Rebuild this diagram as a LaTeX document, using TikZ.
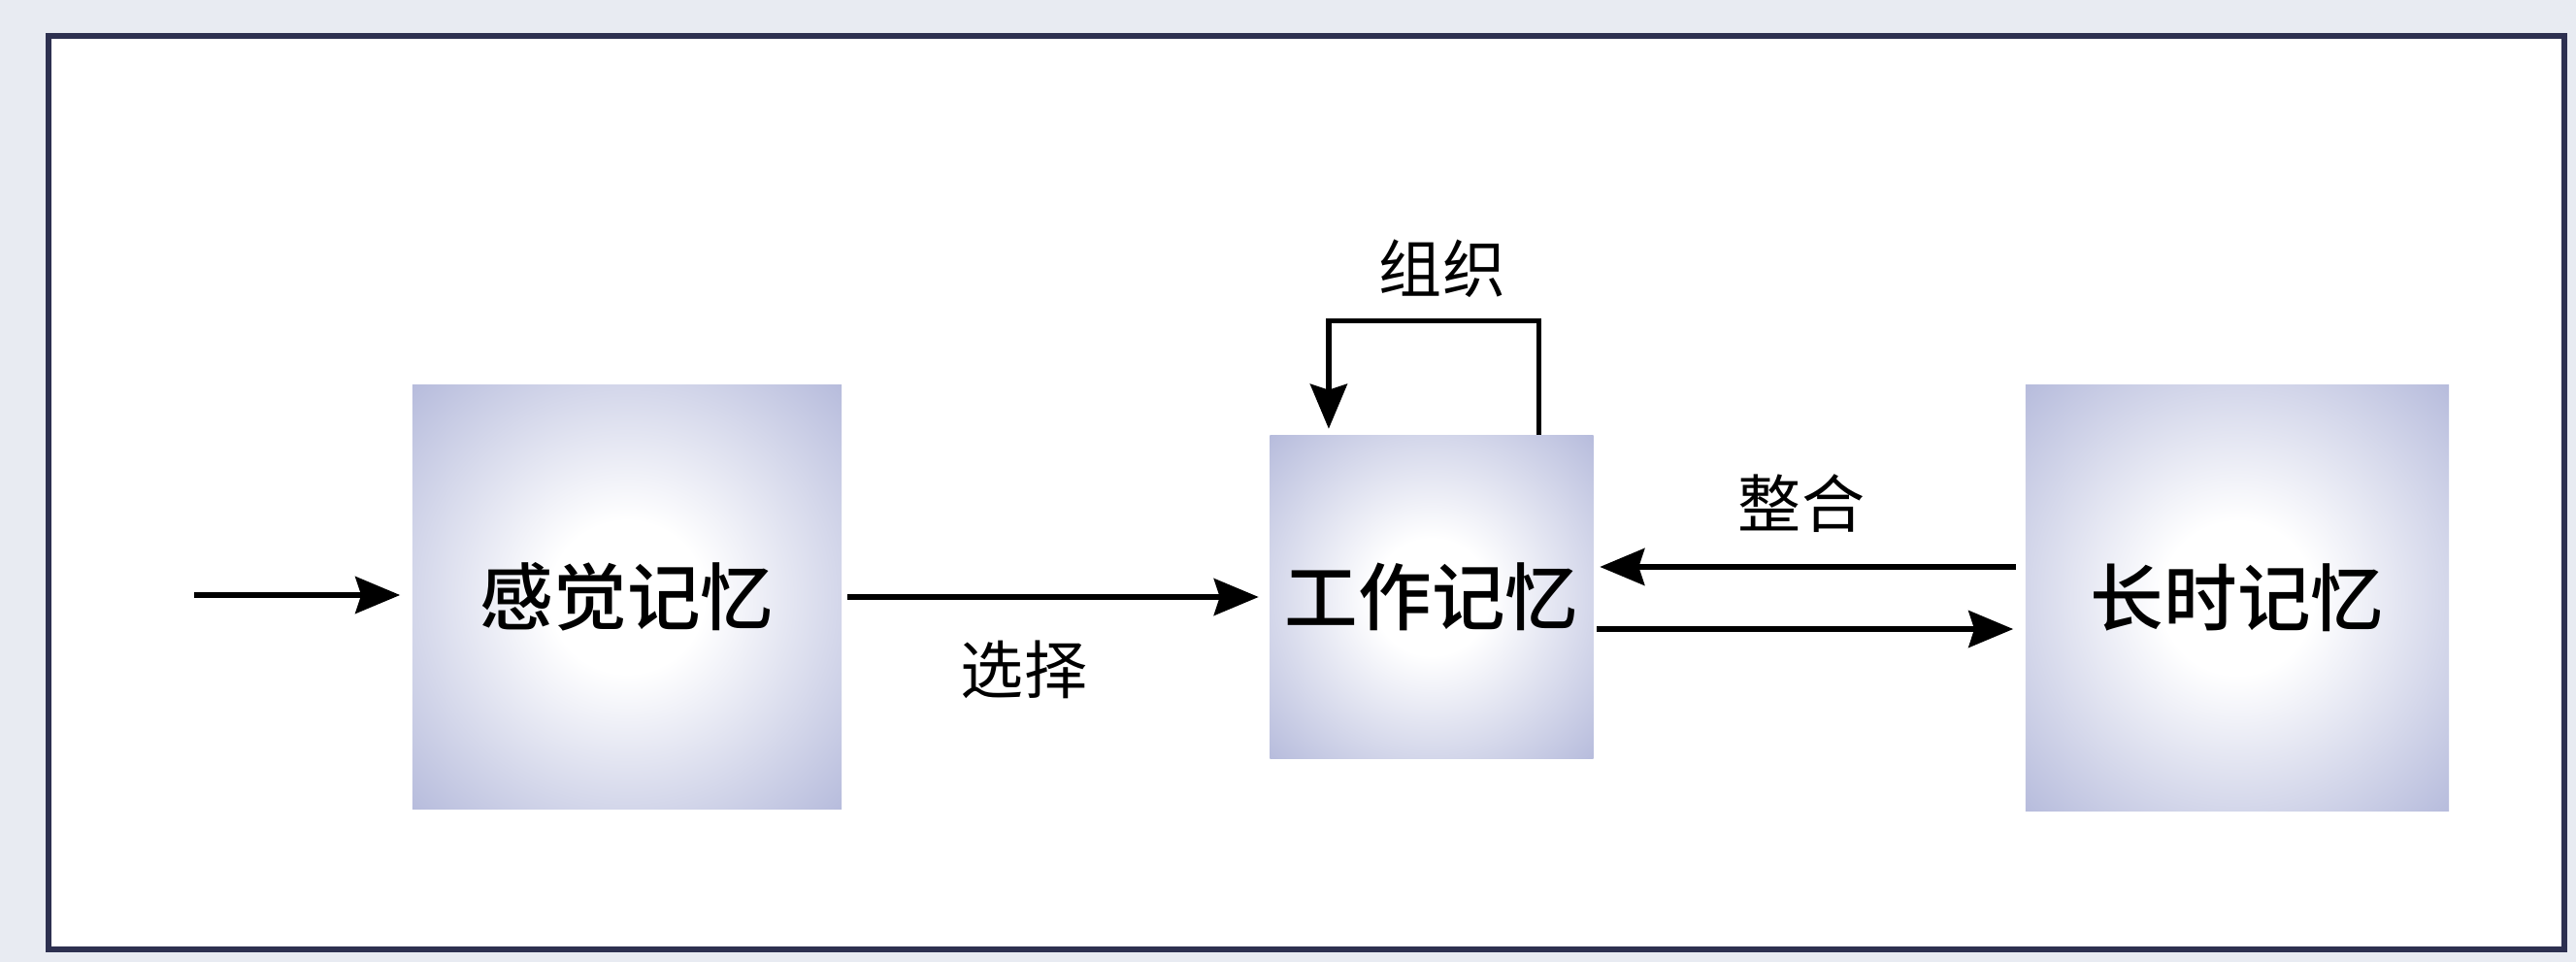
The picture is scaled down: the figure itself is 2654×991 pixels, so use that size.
\documentclass[tikz,border=0pt]{standalone}
\usepackage{fontspec}
\newfontfamily\cjk{Noto Sans CJK SC}
\newfontfamily\cjkm{Noto Sans CJK SC Medium}
\usetikzlibrary{arrows.meta}
\definecolor{frameblue}{RGB}{45,48,80}
\definecolor{boxblue}{RGB}{170,176,214}
\definecolor{marginc}{RGB}{232,235,242}
\pgfdeclareradialshading{boxshade}{\pgfpoint{0bp}{0bp}}{color(0bp)=(white); color(9bp)=(white); color(26bp)=(boxblue!55); color(40bp)=(boxblue); color(50bp)=(boxblue)}
\tikzset{
  membox/.style={shading=boxshade, inner sep=0pt, text=black,
    font=\cjkm\fontsize{21.5}{21.5}\selectfont},
  lbl/.style={inner sep=0pt, text=black, font=\cjk\fontsize{18.5}{18.5}\selectfont},
  arr/.style={line width=1.45pt, -{Stealth[length=0.46cm, width=0.38cm, inset=0.06cm]}},
  plain/.style={line width=1.45pt}
}
\begin{document}
\begin{tikzpicture}[x=0.01cm, y=-0.01cm]
\useasboundingbox (0,0) rectangle (2654,991);
\fill[marginc] (0,0) rectangle (2654,991);
\draw[frameblue, line width=1.7pt, fill=white] (50,37) rectangle (2642,978);

\node[membox, minimum width=4.42cm, minimum height=4.36cm] (sm) at (646,615) {感觉记忆};
\node[membox, minimum width=3.33cm, minimum height=3.33cm] (wm) at (1475,615) {工作记忆};
\node[membox, minimum width=4.36cm, minimum height=4.38cm] (lt) at (2305,616) {长时记忆};

\coordinate (inp) at (200,613);
\draw[arr, shorten >=0.12cm] (inp) -- (inp -| sm.west);
\draw[arr, shorten <=0.05cm, shorten >=0.11cm] (sm.east) -- (wm.west);
\node[lbl] (sel) at (1055,690) {选择};

\draw[arr] ([xshift=1.10cm]wm.north) -- ++(0,1.17cm) -| ([xshift=-1.06cm,yshift=0.06cm]wm.north);
\node[lbl] (org) at (1486,277) {组织};

\draw[arr, shorten <=0.09cm, shorten >=0.06cm] ([yshift=0.32cm]lt.west) -- ([yshift=0.32cm]wm.east |- lt.west);
\draw[arr, shorten <=0.03cm, shorten >=0.12cm] ([yshift=-0.33cm]wm.east) -- ([yshift=-0.33cm]lt.west |- wm.east);
\node[lbl] (int) at (1856,519) {整合};
\end{tikzpicture}
\end{document}
